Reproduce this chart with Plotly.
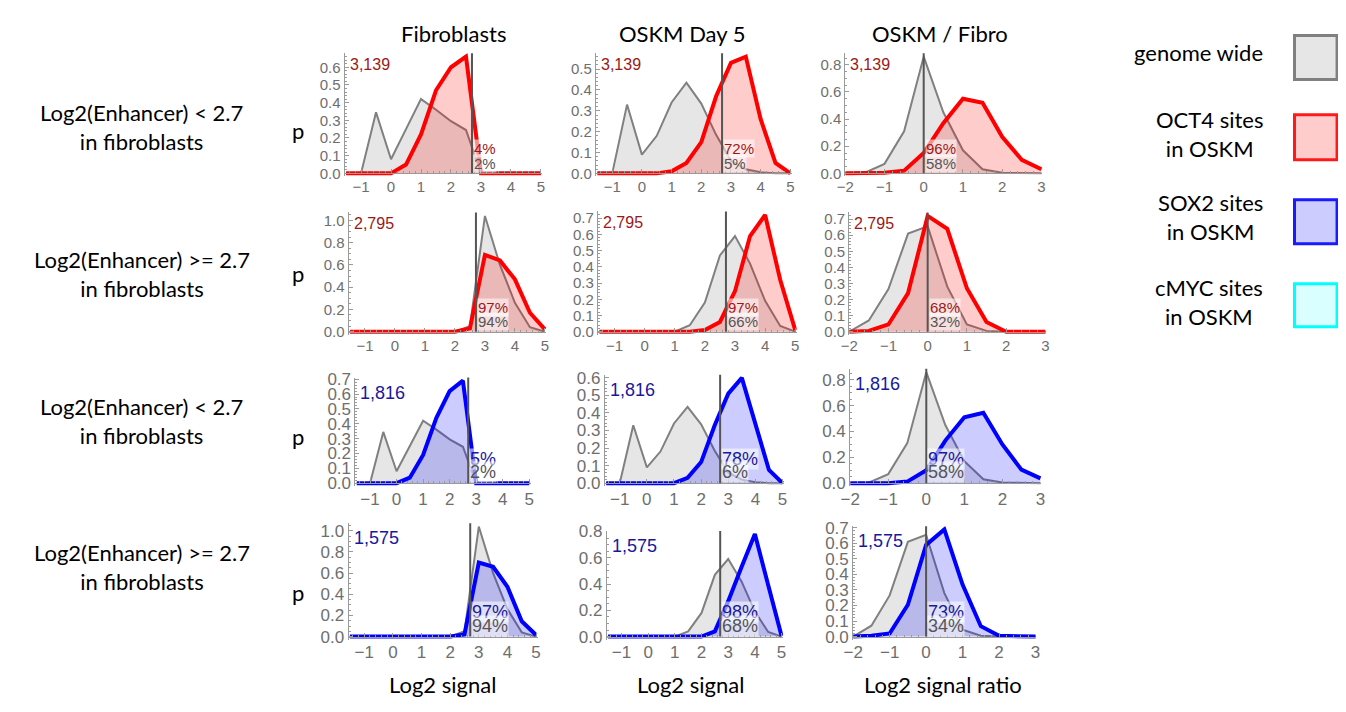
import plotly.graph_objects as go

# the page body has an 8px margin, so the figure is drawn 8px smaller and all
# reference pixel positions are shifted by that margin
OFF = 8
W, H = 1346 - OFF, 712 - OFF

# ---------------- data ----------------
X_SIGNAL = [-1.5, -1, -0.5, 0, 0.5, 1, 1.5, 2, 2.5, 3, 3.5, 4, 4.5, 5]
X_RATIO = [-2, -1.5, -1, -0.5, 0, 0.5, 1, 1.5, 2, 2.5, 3]

# genome wide distributions (low / high fibroblast enhancer)
genome_low_fib = [0, 0, 0.345, 0.08, 0.25, 0.42, 0.36, 0.295, 0.245, 0, 0, 0, 0, 0]
genome_low_d5 = [0, 0, 0.33, 0.09, 0.18, 0.34, 0.435, 0.335, 0.185, 0.06, 0.02, 0.005, 0, 0]
genome_low_ratio = [0, 0.005, 0.07, 0.31, 0.86, 0.45, 0.17, 0.03, 0.005, 0, 0]
genome_high_fib = [0, 0, 0, 0, 0, 0, 0, 0, 0.05, 1.04, 0.6, 0.26, 0.04, 0]
genome_high_d5 = [0, 0, 0, 0, 0, 0, 0.04, 0.18, 0.47, 0.59, 0.42, 0.19, 0.035, 0]
genome_high_ratio = [0, 0.07, 0.265, 0.61, 0.655, 0.28, 0.045, 0.005, 0, 0, 0]

# OCT4 sites in OSKM
oct4_low_fib = [0, 0, 0, 0, 0.05, 0.22, 0.47, 0.60, 0.66, 0, 0, 0, 0, 0]
oct4_low_d5 = [0, 0, 0, 0, 0, 0.01, 0.05, 0.15, 0.37, 0.53, 0.56, 0.26, 0.05, 0]
oct4_low_ratio = [0, 0, 0.005, 0.02, 0.15, 0.37, 0.55, 0.52, 0.27, 0.10, 0.03]
oct4_high_fib = [0, 0, 0, 0, 0, 0, 0, 0, 0.03, 0.69, 0.64, 0.47, 0.17, 0.02]
oct4_high_d5 = [0, 0, 0, 0, 0, 0, 0, 0.01, 0.06, 0.25, 0.59, 0.72, 0.32, 0.01]
oct4_high_ratio = [0, 0.005, 0.045, 0.24, 0.72, 0.64, 0.27, 0.06, 0, 0, 0]

# SOX2 sites in OSKM
sox2_low_fib = [0, 0, 0, 0, 0.037, 0.19, 0.44, 0.62, 0.69, 0, 0, 0, 0, 0]
sox2_low_d5 = [0, 0, 0, 0, 0, 0, 0.03, 0.12, 0.33, 0.51, 0.60, 0.34, 0.075, 0]
sox2_low_ratio = [0, 0, 0, 0.012, 0.10, 0.33, 0.51, 0.545, 0.30, 0.105, 0.037]
sox2_high_fib = [0, 0, 0, 0, 0, 0, 0, 0, 0.02, 0.70, 0.66, 0.47, 0.145, 0.015]
sox2_high_d5 = [0, 0, 0, 0, 0, 0, 0, 0, 0.04, 0.27, 0.53, 0.78, 0.39, 0.005]
sox2_high_ratio = [0, 0.005, 0.02, 0.205, 0.59, 0.69, 0.335, 0.067, 0.005, 0, 0]

site_counts = ["3,139", "2,795", "1,816", "1,575"]
site_pct = [["4%", "72%", "96%"], ["97%", "97%", "68%"],
            ["5%", "78%", "97%"], ["97%", "98%", "73%"]]
genome_pct = [["2%", "5%", "58%"], ["94%", "66%", "32%"],
              ["2%", "6%", "58%"], ["94%", "68%", "34%"]]

col_titles = ["Fibroblasts", "OSKM Day 5", "OSKM / Fibro"]
x_titles = ["Log2 signal", "Log2 signal", "Log2 signal ratio"]
row_labels = ["Log2(Enhancer) < 2.7<br>in fibroblasts",
              "Log2(Enhancer) >= 2.7<br>in fibroblasts",
              "Log2(Enhancer) < 2.7<br>in fibroblasts",
              "Log2(Enhancer) >= 2.7<br>in fibroblasts"]
legend_labels = ["genome wide", "OCT4 sites<br>in OSKM", "SOX2 sites<br>in OSKM", "cMYC sites<br>in OSKM"]
thresholds = [2.7, 2.7, 0.0]

genome = [[genome_low_fib, genome_low_d5, genome_low_ratio],
          [genome_high_fib, genome_high_d5, genome_high_ratio],
          [genome_low_fib, genome_low_d5, genome_low_ratio],
          [genome_high_fib, genome_high_d5, genome_high_ratio]]
sites = [[oct4_low_fib, oct4_low_d5, oct4_low_ratio],
         [oct4_high_fib, oct4_high_d5, oct4_high_ratio],
         [sox2_low_fib, sox2_low_d5, sox2_low_ratio],
         [sox2_high_fib, sox2_high_d5, sox2_high_ratio]]

# ---------------- layout geometry (screen pixels) ----------------
# (left, right, top, zero)
boxes = [
    [(338, 538, 45, 168), (592, 790, 45, 168), (844, 1043, 45, 168)],
    [(342, 542, 208, 330), (594, 795, 207, 330), (848, 1047, 208, 330)],
    [(349, 526, 377, 485), (601, 782, 374, 485), (849, 1042, 368, 485)],
    [(342, 533, 526, 642), (603, 781, 534, 642), (852, 1037, 529, 642)],
]
ydticks = [[0.1, 0.1, 0.2], [0.2, 0.1, 0.1], [0.1, 0.1, 0.2], [0.2, 0.2, 0.1]]

RED_LINE, RED_FILL, RED_TXT = "#ff0000", "rgba(255,0,0,0.2)", "#9c1818"
BLUE_LINE, BLUE_FILL, BLUE_TXT = "#0000ff", "rgba(0,0,255,0.2)", "#18189c"
GRAY_LINE, GRAY_FILL = "#808080", "rgba(128,128,128,0.2)"
AX = "#9a9a9a"
TICKFONT = "Liberation Sans"
TEXTFONT = "Lato"
TXT_SIZE = 22
TXT_LIFT = 3

fig = go.Figure()
shapes = []
annotations = []


def px(x):
    return (x - OFF) / W


def py(y):
    return 1 - (y - OFF) / H


idx = 0
for r in range(4):
    for c in range(3):
        idx += 1
        left, right, top, zero = boxes[r][c]
        xs = X_RATIO if c == 2 else X_SIGNAL
        xr = [-2, 3.02] if c == 2 else [-1.55, 5.05]
        g = genome[r][c]
        s = sites[r][c]
        ytop = max(max(g), max(s)) * 1.03
        pad = 3
        ymin = -pad * ytop / (zero - top)
        big = r >= 2
        tick_size = 17 if big else 15
        lc, fc, tc = (BLUE_LINE, BLUE_FILL, BLUE_TXT) if r >= 2 else (RED_LINE, RED_FILL, RED_TXT)
        xa = "x" if idx == 1 else f"x{idx}"
        ya = "y" if idx == 1 else f"y{idx}"
        fig.add_trace(go.Scatter(x=xs, y=g, mode="lines", fill="tozeroy",
                                 fillcolor=GRAY_FILL, line=dict(color=GRAY_LINE, width=2),
                                 xaxis=xa, yaxis=ya, showlegend=False, hoverinfo="skip"))
        fig.add_trace(go.Scatter(x=xs, y=s, mode="lines", fill="tozeroy",
                                 fillcolor=fc, line=dict(color=lc, width=4),
                                 xaxis=xa, yaxis=ya, showlegend=False, hoverinfo="skip"))
        dt = ydticks[r][c]
        fig.layout[f"xaxis{idx}"] = dict(
            domain=[px(left), px(right)], range=xr, anchor="free", position=py(zero),
            tick0=0, dtick=1, ticks="inside", ticklen=4, tickcolor=AX,
            showline=True, linecolor=AX, linewidth=1, showgrid=False, zeroline=False,
            minor=dict(ticks="inside", ticklen=2, dtick=0.2, tickcolor=AX),
            tickfont=dict(family=TICKFONT, size=tick_size, color="#6e6e6e"),
            fixedrange=True)
        fig.layout[f"yaxis{idx}"] = dict(
            domain=[py(zero + pad), py(top)], range=[ymin, ytop], anchor=xa,
            tick0=0, dtick=dt, tickformat=".1f", ticks="inside", ticklen=4, tickcolor=AX,
            showline=True, linecolor=AX, linewidth=1, showgrid=False, zeroline=False,
            minor=dict(ticks="inside", ticklen=2, dtick=0.02 if dt == 0.1 else 0.05, tickcolor=AX),
            tickfont=dict(family=TICKFONT, size=tick_size, color="#6e6e6e"),
            fixedrange=True)
        hgt = zero + pad - top
        # threshold line
        shapes.append(dict(type="line", xref=xa, yref=f"{ya} domain",
                           x0=thresholds[c], x1=thresholds[c], y0=pad / hgt, y1=1,
                           line=dict(color="#555555", width=2), layer="above"))
        # count label
        annotations.append(dict(xref=f"{xa} domain", yref=f"{ya} domain", x=0, y=1,
                                xanchor="left", yanchor="top", xshift=3, yshift=-1 if not big else -3,
                                text=site_counts[r], showarrow=False,
                                font=dict(family=TICKFONT, size=18 if big else 16, color=tc)))
        # percentage labels
        annotations.append(dict(xref=xa, yref=f"{ya} domain", x=thresholds[c],
                                y=(pad + 25) / hgt, xanchor="left", yanchor="middle", xshift=1,
                                text=site_pct[r][c], showarrow=False, bgcolor="rgba(255,255,255,0.55)",
                                borderpad=0,
                                font=dict(family=TICKFONT, size=18 if big else 15, color=tc)))
        annotations.append(dict(xref=xa, yref=f"{ya} domain", x=thresholds[c],
                                y=(pad + (11 if big else 10)) / hgt, xanchor="left", yanchor="middle",
                                xshift=1, text=genome_pct[r][c], showarrow=False,
                                bgcolor="rgba(255,255,255,0.55)", borderpad=0,
                                font=dict(family=TICKFONT, size=18 if big else 15, color="#555555")))

# column titles and x titles
title_x = [448, 680, 940]
xt_x = [437, 688, 943]
for c in range(3):
    annotations.append(dict(xref="paper", yref="paper", x=px(title_x[c]), y=py(28), yshift=TXT_LIFT,
                            xanchor="center", yanchor="middle", text=col_titles[c], showarrow=False,
                            font=dict(family=TEXTFONT, size=TXT_SIZE, color="black")))
    annotations.append(dict(xref="paper", yref="paper", x=px(xt_x[c]), y=py(694), yshift=TXT_LIFT,
                            xanchor="center", yanchor="middle", text=x_titles[c], showarrow=False,
                            font=dict(family=TEXTFONT, size=TXT_SIZE, color="black")))

# row labels and "p"
row_y = [124, 274, 424, 574]
p_y = [127, 274, 440, 600]
for r in range(4):
    annotations.append(dict(xref="paper", yref="paper", x=px(133), y=py(row_y[r]), yshift=TXT_LIFT,
                            xanchor="center", yanchor="middle", text=row_labels[r], showarrow=False,
                            align="center", font=dict(family=TEXTFONT, size=TXT_SIZE, color="black")))
    annotations.append(dict(xref="paper", yref="paper", x=px(291), y=py(p_y[r]), yshift=TXT_LIFT,
                            xanchor="center", yanchor="middle", text="p", showarrow=False,
                            font=dict(family=TEXTFONT, size=TXT_SIZE, color="black")))

# legend
leg_sq = [(27, 72), (108, 154), (195, 240), (281, 325)]
leg_line = ["#808080", "#ff1a1a", "#1a1aff", "#00ffff"]
leg_fill = ["#e6e6e6", "#ffcccc", "#ccccff", "#d9ffff"]
leg_ty = [47, 131, 216, 303]
for i in range(4):
    y0, y1 = leg_sq[i]
    shapes.append(dict(type="rect", xref="paper", yref="paper",
                       x0=px(1298), x1=px(1341), y0=py(y1), y1=py(y0),
                       line=dict(color=leg_line[i], width=3), fillcolor=leg_fill[i]))
    annotations.append(dict(xref="paper", yref="paper", x=px(1268), y=py(leg_ty[i]), yshift=TXT_LIFT,
                            xanchor="right", yanchor="middle", text=legend_labels[i], showarrow=False,
                            align="center", font=dict(family=TEXTFONT, size=TXT_SIZE, color="black")))

fig.update_layout(width=W, height=H, margin=dict(l=0, r=0, t=0, b=0),
                  paper_bgcolor="white", plot_bgcolor="rgba(0,0,0,0)",
                  shapes=shapes, annotations=annotations, showlegend=False)

fig.write_html("out.html", config={"displayModeBar": False})
